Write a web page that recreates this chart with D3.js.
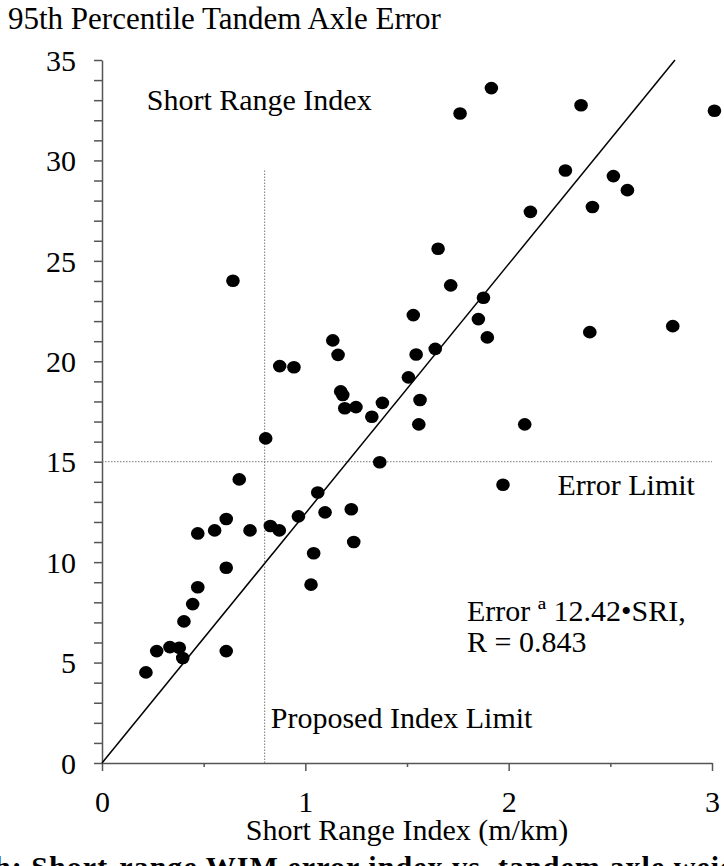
<!DOCTYPE html>
<meta charset="utf-8">
<style>

body {
  margin: 0;
  background: #fff;
}

svg text {
  font-family: "Liberation Serif", "Tinos", "DejaVu Serif", serif;
  fill: #000;
}

.axis path,
.axis line {
  stroke: #555;
  stroke-width: 1.5;
}

.axis text {
  font-size: 30px;
}

.limit {
  stroke: #777;
  stroke-width: 1;
  stroke-dasharray: 1.5,1.5;
}

.note {
  font-size: 30px;
}

</style>
<svg width="724" height="866"></svg>
<script src="https://d3js.org/d3.v7.min.js"></script>
<script>

// short range index (m/km) for each site
var sri = [0.805, 1.366, 0.675, 1.061, 1.097, 1.226, 0.966, 0.611, 0.828, 0.872,
           0.728, 0.554, 0.471, 1.238, 1.041, 0.611, 1.028, 0.471, 0.446, 0.403,
           0.334, 0.380, 0.397, 0.269, 0.611, 0.216, 1.915, 1.761, 2.356, 3.012,
           2.279, 2.515, 2.584, 2.412, 2.107, 1.653, 1.715, 1.876, 1.531, 1.851,
           1.895, 2.399, 2.807, 1.639, 1.545, 0.644, 1.135, 1.161, 0.874, 0.944,
           1.174, 1.184, 1.194, 1.249, 1.379, 1.327, 1.507, 1.564, 1.558, 2.079,
           1.972];

// 95th percentile tandem axle error (%)
var axleError = [16.16, 14.97, 14.12, 13.47, 12.48, 12.63, 12.28, 12.15, 11.80, 11.58,
                 11.58, 11.58, 11.43, 11.00, 10.44, 9.72, 8.88, 8.75, 7.91, 7.05,
                 5.77, 5.74, 5.23, 5.57, 5.57, 4.51, 33.60, 32.34, 32.75, 32.47,
                 29.50, 29.22, 28.52, 27.68, 27.44, 25.60, 23.78, 23.16, 22.30, 22.10,
                 21.19, 21.45, 21.75, 20.62, 20.34, 24.01, 21.04, 20.32, 19.76, 19.70,
                 18.50, 18.32, 17.66, 17.72, 17.93, 17.24, 19.20, 18.07, 16.86, 16.86,
                 13.85];

var xLabels = [0, 1, 2, 3];
var xMinor = [0.5, 1.5, 2.5];
var yLabels = [0, 5, 10, 15, 20, 25, 30, 35];

var slope = 12.42;        // Error = 12.42 * SRI
var indexLimit = 0.8;     // proposed index limit
var indexLimitTop = 29.5;
var errorLimit = 15;

var svg = d3.select("svg"),
    width = +svg.attr("width"),
    height = +svg.attr("height");

var x = d3.scaleLinear()
    .domain([0, 3])
    .range([102, 712]);

var y = d3.scaleLinear()
    .domain([0, 35])
    .range([763, 60]);

// y axis, a tick at every unit, labels every 5
svg.append("g")
    .attr("class", "axis")
    .attr("transform", "translate(" + x(0) + ",0)")
    .call(d3.axisLeft(y)
      .tickValues(d3.range(0, 36))
      .tickSize(8)
      .tickSizeOuter(0)
      .tickPadding(18)
      .tickFormat(function(d) { return yLabels.indexOf(d) >= 0 ? d : ""; }))
    .call(function(g) {
      g.attr("font-family", null);
      g.selectAll("text").attr("dy", "0.34em");
    });

// x axis
svg.append("g")
    .attr("class", "axis")
    .attr("transform", "translate(0," + y(0) + ")")
    .call(d3.axisBottom(x)
      .tickValues(xLabels)
      .tickFormat(d3.format("d"))
      .tickSize(8)
      .tickSizeOuter(0)
      .tickPadding(20))
    .call(function(g) { g.attr("font-family", null); });

svg.append("g")
    .attr("class", "axis")
    .attr("transform", "translate(0," + y(0) + ")")
    .call(d3.axisBottom(x)
      .tickValues(xMinor)
      .tickSize(4)
      .tickFormat(""))
    .call(function(g) { g.select(".domain").remove(); });

// limits
svg.append("line")
    .attr("class", "limit")
    .attr("x1", x(indexLimit)).attr("x2", x(indexLimit))
    .attr("y1", y(0)).attr("y2", y(indexLimitTop));

svg.append("line")
    .attr("class", "limit")
    .attr("x1", x(0)).attr("x2", x(3))
    .attr("y1", y(errorLimit)).attr("y2", y(errorLimit));

// fitted line through the origin
svg.append("line")
    .attr("x1", x(0)).attr("y1", y(0))
    .attr("x2", x(35 / slope)).attr("y2", y(35))
    .attr("stroke", "#000")
    .attr("stroke-width", 1.5);

// the sites
svg.append("g")
  .selectAll("ellipse")
  .data(sri)
  .enter().append("ellipse")
    .attr("cx", function(d) { return x(d); })
    .attr("cy", function(d, i) { return y(axleError[i]); })
    .attr("rx", 6.8)
    .attr("ry", 6.3)
    .attr("fill", "#000");

// texts
svg.append("text")
    .attr("x", 8).attr("y", 29)
    .style("font-size", "31px")
    .text("95th Percentile Tandem Axle Error");

svg.append("text").attr("class", "note")
    .attr("x", x(0.22)).attr("y", y(32.5))
    .text("Short Range Index");

svg.append("text").attr("class", "note")
    .attr("x", x(2.24)).attr("y", y(13.35))
    .text("Error Limit");

svg.append("text").attr("class", "note")
    .attr("x", x(1.795)).attr("y", y(7.05))
    .text("Error ª 12.42•SRI,");

svg.append("text").attr("class", "note")
    .attr("x", x(1.795)).attr("y", y(5.55))
    .text("R = 0.843");

svg.append("text").attr("class", "note")
    .attr("x", x(0.83)).attr("y", y(1.75))
    .text("Proposed Index Limit");

svg.append("text")
    .attr("x", x(1.5)).attr("y", 840)
    .attr("text-anchor", "middle")
    .style("font-size", "30px")
    .text("Short Range Index (m/km)");

// figure caption, cut by the bottom edge
svg.append("text")
    .attr("x", -6).attr("y", 877)
    .attr("textLength", 770)
    .attr("lengthAdjust", "spacing")
    .style("font-size", "30px")
    .style("font-weight", "bold")
    .text("h: Short-range WIM error index vs. tandem axle weight");

</script>
